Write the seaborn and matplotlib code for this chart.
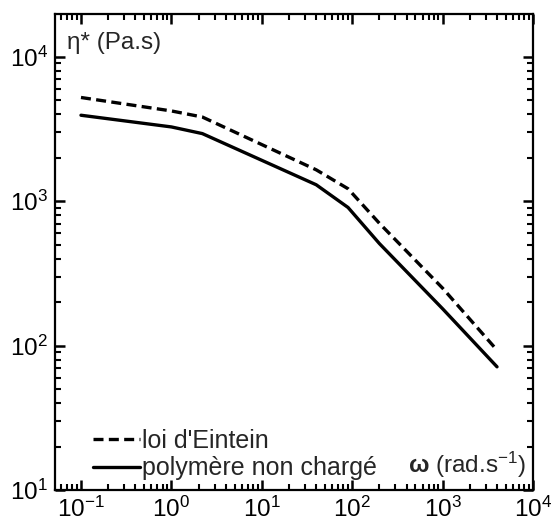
import matplotlib
matplotlib.use("Agg")
import matplotlib.pyplot as plt
import seaborn as sns
import pandas as pd
from matplotlib.ticker import LogLocator, NullFormatter

# Data
omega_einstein = [0.1, 1.0, 2.2, 40, 90, 200, 1000, 4000]
eta_einstein = [5230, 4220, 3830, 1650, 1220, 703, 250, 93]

omega_polymer = [0.1, 1.0, 2.2, 40, 90, 200, 1000, 4000]
eta_polymer = [3940, 3270, 2940, 1300, 905, 509, 180, 71.3]

label_einstein = "loi d'Eintein"
label_polymer = "polymère non chargé"

sns.set_style("ticks")
plt.rcParams['font.family'] = ['Liberation Sans', 'DejaVu Sans']
plt.rcParams['mathtext.fontset'] = 'custom'
plt.rcParams['mathtext.rm'] = 'Liberation Sans'
plt.rcParams['mathtext.it'] = 'Liberation Sans:italic'
plt.rcParams['mathtext.bf'] = 'Liberation Sans:bold'
plt.rcParams['axes.unicode_minus'] = False

fig = plt.figure(figsize=(5.51, 5.22), dpi=100)
ax = fig.add_axes([55/551, 1-490/522, (533-55)/551, (490-14)/522])

df_e = pd.DataFrame({"omega": omega_einstein, "eta": eta_einstein})
df_p = pd.DataFrame({"omega": omega_polymer, "eta": eta_polymer})

sns.lineplot(data=df_e, x="omega", y="eta", ax=ax, color="black", lw=2.4,
             linestyle=(0, (3.0, 1.6)), label=label_einstein)
sns.lineplot(data=df_p, x="omega", y="eta", ax=ax, color="black", lw=2.4,
             label=label_polymer)

ax.set_xscale("log")
ax.set_yscale("log")
ax.set_xlim(0.0516, 1e4)
ax.set_ylim(10, 1.98e4)
ax.set_xlabel("")
ax.set_ylabel("")

ax.xaxis.set_major_locator(LogLocator(base=10, numticks=20))
ax.yaxis.set_major_locator(LogLocator(base=10, numticks=20))
ax.xaxis.set_minor_locator(LogLocator(base=10, subs=range(2, 10), numticks=50))
ax.yaxis.set_minor_locator(LogLocator(base=10, subs=range(2, 10), numticks=50))
ax.xaxis.set_minor_formatter(NullFormatter())
ax.yaxis.set_minor_formatter(NullFormatter())

for s in ax.spines.values():
    s.set_linewidth(1.6)
    s.set_color("black")
    s.set_visible(True)

ax.tick_params(which="both", direction="in", top=True, right=True, colors="black")
ax.tick_params(which="major", length=7, width=1.8, labelsize=17.5, pad=5)
ax.tick_params(which="minor", length=4, width=1.5)

ax.text(0.025, 0.94, "η* (Pa.s)", transform=ax.transAxes, fontsize=17.5,
        ha="left", va="center")
ax.text(0.985, 0.052, r"$\mathbf{\omega}$ (rad.s$^{\mathregular{-1}}$)",
        transform=ax.transAxes, fontsize=17.5, ha="right", va="center")

leg = ax.legend(loc="lower left", bbox_to_anchor=(0.053, -0.006), frameon=False,
                fontsize=18, handlelength=1.88, handletextpad=0.08,
                labelspacing=0.15, borderaxespad=0.1)

fig.savefig("out.png", dpi=100)
